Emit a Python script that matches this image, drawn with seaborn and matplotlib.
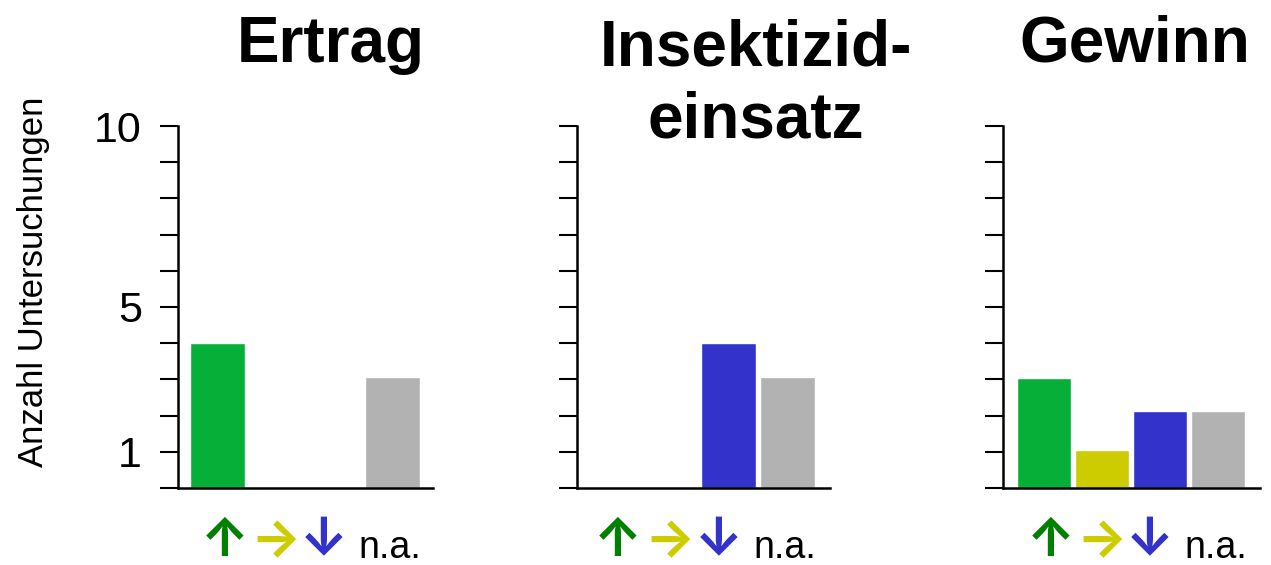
import matplotlib
matplotlib.use("Agg")
import matplotlib.pyplot as plt
from matplotlib import font_manager
from matplotlib.transforms import ScaledTranslation
import seaborn as sns
import pandas as pd

# ---- data ----
categories = ["auf", "gleich", "ab", "n.a."]
tick_labels = ["↑", "→", "↓", "n.a."]
tick_colors = ["#008000", "#cccc00", "#3333cc", "#000000"]
bar_colors = ["#06b038", "#cccc00", "#3333cc", "#b2b2b2"]
panel_titles = ["Ertrag", "Insektizid-\neinsatz", "Gewinn"]
ertrag = [4.0, 0, 0, 3.08]
insektizid = [0, 0, 4.0, 3.07]
gewinn = [3.05, 1.05, 2.14, 2.12]
panel_values = [ertrag, insektizid, gewinn]
y_ticks = list(range(0, 11))
y_ticklabels = ["", "1", "", "", "", "5", "", "", "", "", "10"]
y_label = "Anzahl Untersuchungen"

sns.set_theme(style="ticks")
names = {f.name for f in font_manager.fontManager.ttflist}
base = "Liberation Sans" if "Liberation Sans" in names else "DejaVu Sans"
narrow = "Liberation Sans Narrow" if "Liberation Sans Narrow" in names else base
narrow_scale = 1.0 if narrow != base else 0.82
arrow_font = "Inter" if "Inter" in names else (
    "Noto Sans CJK JP" if "Noto Sans CJK JP" in names else "DejaVu Sans")
plt.rcParams["font.family"] = [base, "DejaVu Sans"]
for k in ["text.color", "axes.labelcolor", "xtick.color", "ytick.color", "axes.edgecolor"]:
    plt.rcParams[k] = "black"

W, H = 1271, 565
fig = plt.figure(figsize=(W / 100, H / 100), dpi=100)

# layout (pixels)
ax_px = [(178, 433), (577, 830), (1003, 1260)]
xlims = [(-0.68, 3.70), (-0.56, 3.72), (-0.71, 3.73)]
tick_offsets = [0.12, 0.0, -0.17, -0.04]
label_dy_px = [-2, -2, -1, -7]
top_px, bot_px = 126, 488
title_pos = [(331, 62), (756, 137), (1135, 62)]

for i, (vals, title) in enumerate(zip(panel_values, panel_titles)):
    l, r = ax_px[i]
    ax = fig.add_axes([l / W, 1 - bot_px / H, (r - l) / W, (bot_px - top_px) / H])
    df = pd.DataFrame({"cat": categories, "val": vals})
    sns.barplot(data=df, x="cat", y="val", hue="cat", palette=bar_colors,
                order=categories, hue_order=categories, legend=False,
                width=0.94, saturation=1, ax=ax)
    ax.set_xlim(*xlims[i])
    ax.set_ylim(0, 10)
    ax.set_yticks(y_ticks)
    if i == 0:
        ax.set_yticklabels(y_ticklabels, fontsize=31, family=[base, "DejaVu Sans"])
    else:
        ax.set_yticklabels([])
    ax.tick_params(axis="y", length=13, width=1.5, color="black", pad=13)
    ax.tick_params(axis="x", length=0, pad=38)
    ax.set_xticks([k + o for k, o in enumerate(tick_offsets)])
    ax.set_xticklabels(tick_labels)
    for lab, c, dy in zip(ax.get_xticklabels(), tick_colors, label_dy_px):
        lab.set_color(c)
        lab.set_va("center")
        if lab.get_text() == "n.a.":
            lab.set_family([narrow, "DejaVu Sans"])
            lab.set_fontsize(33 * narrow_scale)
        else:
            lab.set_family([arrow_font, "DejaVu Sans"])
            lab.set_fontsize(38)
            lab.set_fontweight("bold")
        if dy:
            lab.set_transform(lab.get_transform() +
                              ScaledTranslation(0, dy / 100, fig.dpi_scale_trans))
    ax.set_xlabel("")
    ax.set_ylabel("")
    sns.despine(ax=ax)
    for s in ["left", "bottom"]:
        ax.spines[s].set_linewidth(1.8)
        ax.spines[s].set_color("black")
    ax.patch.set_alpha(0)
    tx, ty = title_pos[i]
    fig.text(tx / W, 1 - ty / H, title, ha="center", va="baseline",
             fontsize=46, fontweight="bold", linespacing=1.25,
             family=[base, "DejaVu Sans"])

fig.text(34 / W, 1 - 282 / H, y_label, rotation=90, ha="center", va="center",
         fontsize=30.5 * narrow_scale, family=[narrow, "DejaVu Sans"])

fig.savefig("out.png", dpi=100)
